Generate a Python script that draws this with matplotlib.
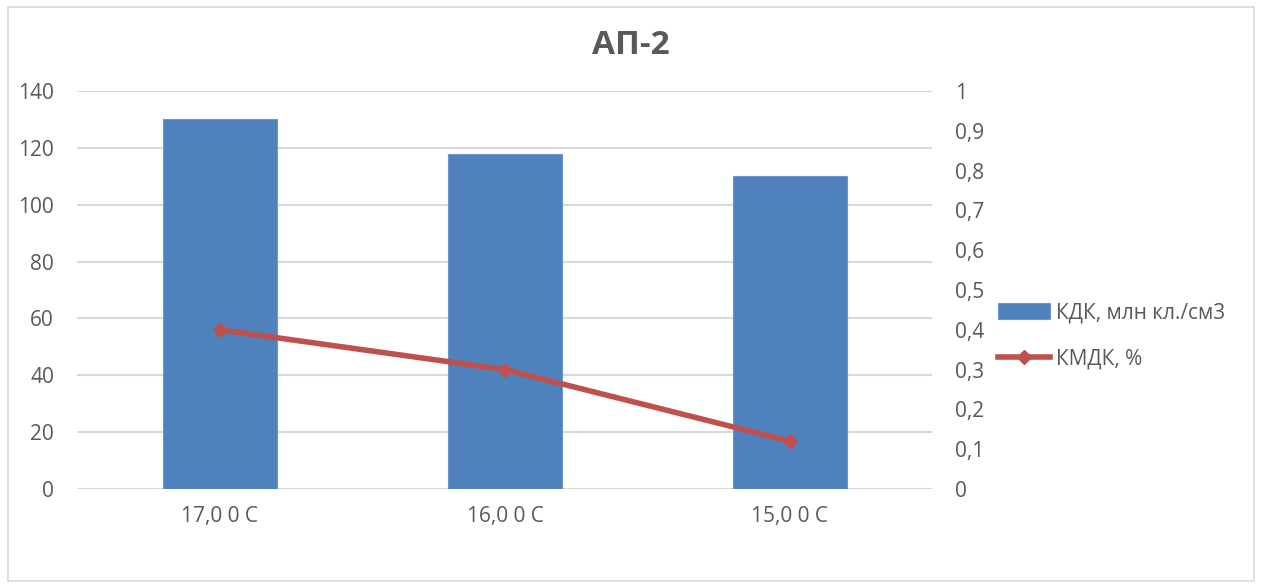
import numpy as np
import matplotlib.pyplot as plt
from matplotlib.patches import Rectangle

plt.rcParams['font.family'] = ['Open Sans', 'DejaVu Sans']

# данные
categories = ["17,0 0 С", "16,0 0 С", "15,0 0 С"]
kdk = [130, 118, 110]          # КДК, млн кл./см3
kmdk = [0.4, 0.3, 0.12]        # КМДК, %

text_col = "#595959"
grid_col = "#D9D9D9"
fs = 15

fig = plt.figure(figsize=(12.62, 5.87), dpi=100)
fig.patches.append(Rectangle((0.006, 0.01), 0.988, 0.978, transform=fig.transFigure,
                             fill=False, edgecolor=grid_col, linewidth=1.2))

ax = fig.add_axes([0.0614, 0.167, 0.6775, 0.678])
x = np.arange(len(categories))
bars = ax.bar(x, kdk, width=0.4, color="#4F81BD", edgecolor="#6D97CB", linewidth=0.8,
              label="КДК, млн кл./см3", zorder=2)
ax.set_xlim(-0.5, 2.5)
ax.set_ylim(0, 140)
ax.set_yticks(np.arange(0, 141, 20))
ax.set_xticks(x)
ax.set_xticklabels(categories)
ax.grid(axis="y", color=grid_col, linewidth=1.5, zorder=0)
ax.set_axisbelow(True)
for s in ax.spines.values():
    s.set_visible(False)
ax.tick_params(axis="y", length=0, pad=17, labelsize=fs, labelcolor=text_col)
ax.tick_params(axis="x", length=0, pad=12, labelsize=fs, labelcolor=text_col)

ax2 = ax.twinx()
line, = ax2.plot(x, kmdk, color="#C0504D", linewidth=4, marker="D", markersize=7,
                 label="КМДК, %", zorder=3)
ax2.set_ylim(0, 1)
ax2.set_yticks(np.arange(0, 1.01, 0.1))
ax2.set_yticklabels(["0" if v == 0 else ("1" if v == 1 else f"{v:.1f}".replace(".", ","))
                     for v in np.arange(0, 1.01, 0.1)])
for s in ax2.spines.values():
    s.set_visible(False)
ax2.tick_params(axis="y", length=0, pad=16, labelsize=fs, labelcolor=text_col)

fig.suptitle("АП-2", x=0.5, y=0.95, fontsize=24, fontweight="bold", color=text_col)

fig.legend([bars, line], ["КДК, млн кл./см3", "КМДК, %"], loc="center left",
           bbox_to_anchor=(0.776, 0.428), frameon=False, fontsize=fs, labelcolor=text_col,
           handlelength=2.5, handleheight=0.75, labelspacing=1.2, handletextpad=0.3)

fig.savefig("out.png", dpi=100)
